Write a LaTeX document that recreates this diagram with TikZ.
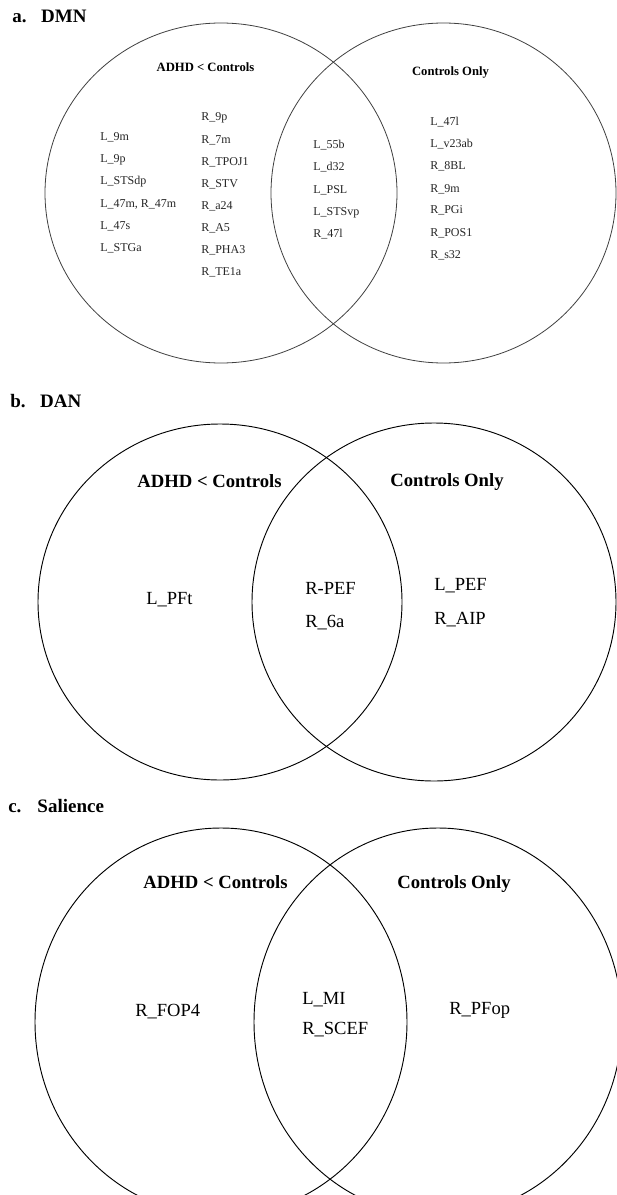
\documentclass[tikz,border=0pt]{standalone}
\usepackage{fontspec}
\setmainfont{Liberation Serif}
\begin{document}
\begin{tikzpicture}[x=0.75pt,y=-0.75pt,
  venna/.style={draw=black!75, line width=0.6pt},
  vennb/.style={draw=black, line width=0.7pt},
  lbla/.style={anchor=base west, inner sep=0pt, text=black!85, font=\fontsize{9}{10}\selectfont},
  hda/.style={anchor=base, inner sep=0pt, font=\bfseries\fontsize{9.5}{11}\selectfont},
  lblb/.style={anchor=base west, inner sep=0pt, font=\fontsize{13.9}{16}\selectfont},
  hdb/.style={anchor=base, inner sep=0pt, font=\bfseries\fontsize{14}{16}\selectfont},
  ttl/.style={anchor=base west, inner sep=0pt, font=\bfseries\fontsize{14.25}{16}\selectfont}]
\useasboundingbox (0,0) rectangle (617,1195);
\clip (0,0) rectangle (617,1195);
\fill[white] (0,0) rectangle (617,1195);

% ---------- a. DMN ----------
\node[ttl] (ta) at (12,22.5) {a.\hspace{11pt}DMN};
\draw[venna] (221,193) ellipse [x radius=176, y radius=170];
\draw[venna] (443.5,193) ellipse [x radius=172.5, y radius=170];
\node[hda] (a-hl) at (205.5,72) {ADHD < Controls};
\node[hda] (a-hr) at (450.5,76) {Controls Only};
\foreach \t [count=\i] in {L\_9m, L\_9p, L\_STSdp, {L\_47m, R\_47m}, L\_47s, L\_STGa}
  \node[lbla] (a-c1-\i) at (100,{141+22*(\i-1)}) {\t};
\foreach \t [count=\i] in {R\_9p, R\_7m, R\_TPOJ1, R\_STV, R\_a24, R\_A5, R\_PHA3, R\_TE1a}
  \node[lbla] (a-c2-\i) at (201,{121+22.1*(\i-1)}) {\t};
\foreach \t [count=\i] in {L\_55b, L\_d32, L\_PSL, L\_STSvp, R\_47l}
  \node[lbla] (a-c3-\i) at (313,{149+22*(\i-1)}) {\t};
\foreach \t [count=\i] in {L\_47l, L\_v23ab, R\_8BL, R\_9m, R\_PGi, R\_POS1, R\_s32}
  \node[lbla] (a-c4-\i) at (430,{126+22*(\i-1)}) {\t};

% ---------- b. DAN ----------
\node[ttl] (tb) at (10,407) {b.\hspace{11pt}DAN};
\draw[vennb] (220,602) ellipse [x radius=182, y radius=178];
\draw[vennb] (434,602) ellipse [x radius=182, y radius=179];
\node[hdb] (b-hl) at (209.5,487) {ADHD < Controls};
\node[hdb] (b-hr) at (447,486) {Controls Only};
\node[lblb] (b-l1) at (146,604) {L\_PFt};
\node[lblb] (b-m1) at (305,594) {R-PEF};
\node[lblb] (b-m2) at (305,627) {R\_6a};
\node[lblb] (b-r1) at (434,590) {L\_PEF};
\node[lblb] (b-r2) at (434,624) {R\_AIP};

% ---------- c. Salience ----------
\node[ttl] (tc) at (8,812) {c.\hspace{12pt}Salience};
\draw[vennb] (221,1022) ellipse [x radius=186, y radius=194];
\draw[vennb] (438,1022) ellipse [x radius=184, y radius=194];
\node[hdb] (c-hl) at (215.5,888) {ADHD < Controls};
\node[hdb] (c-hr) at (454,888) {Controls Only};
\node[lblb] (c-l1) at (135,1016) {R\_FOP4};
\node[lblb] (c-m1) at (302,1004) {L\_MI};
\node[lblb] (c-m2) at (302,1034) {R\_SCEF};
\node[lblb] (c-r1) at (449,1014) {R\_PFop};
\end{tikzpicture}
\end{document}
